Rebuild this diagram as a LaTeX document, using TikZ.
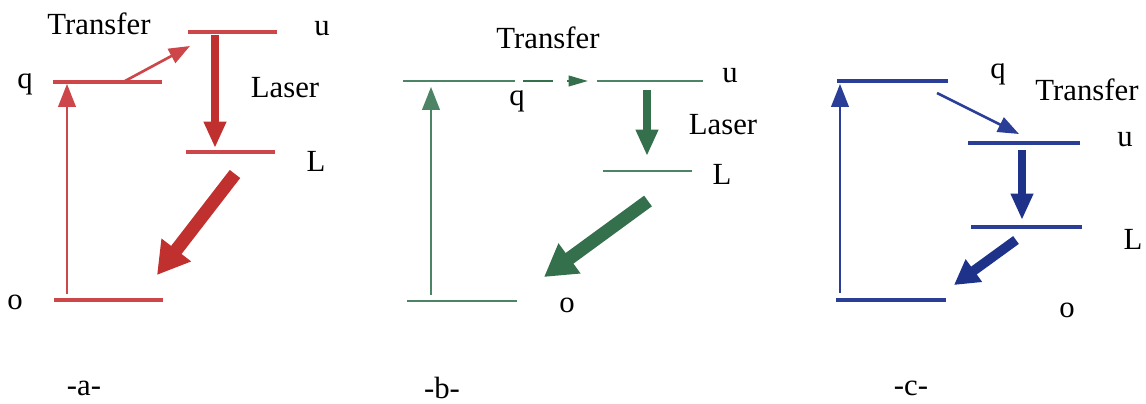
\documentclass[tikz,border=0pt]{standalone}
\usepackage{fontspec}
\setmainfont{Liberation Serif}
\usetikzlibrary{arrows.meta, positioning}
\definecolor{reda}{RGB}{204,70,74}
\definecolor{redarr}{RGB}{192,48,46}
\definecolor{greenb}{RGB}{78,132,102}
\definecolor{greenarr}{RGB}{52,112,76}
\definecolor{bluec}{RGB}{42,62,152}
\definecolor{bluearr}{RGB}{30,50,138}
\tikzstyle{every node}=[font=\fontsize{17.5}{20}\selectfont, inner sep=1pt]
\tikzstyle{level}=[line width=1.8pt]
\tikzstyle{pump}=[line width=1.1pt, -{Triangle[width=10pt,length=13pt]}]
\tikzstyle{transfer}=[line width=1.5pt, -{Triangle[width=9pt,length=12pt]}]
\tikzstyle{laser}=[line width=5pt, -{Triangle[width=12pt,length=15pt]}]
\tikzstyle{decay}=[line width=7.5pt, -{Triangle[width=20pt,length=18pt]}]

\begin{document}
\begin{tikzpicture}[x=0.02cm,y=-0.02cm]
    \useasboundingbox (0,0) rectangle (1146,404);
    % -a-
    \coordinate (qa1) at (53,82);   \coordinate (qa2) at (162,82);
    \coordinate (ua1) at (188,32);  \coordinate (ua2) at (277,32);
    \coordinate (La1) at (186,152); \coordinate (La2) at (275,152);
    \coordinate (oa1) at (54,300);  \coordinate (oa2) at (163,300);
    \coordinate (pa1) at (67,294);  \coordinate (pa2) at (67,84);
    \coordinate (ta1) at (125,81);  \coordinate (ta2) at (190,46);
    \coordinate (la1) at (215,35);  \coordinate (la2) at (215,148);
    \coordinate (da1) at (235,174); \coordinate (da2) at (157,275);
    \draw[level, reda] (qa1) -- (qa2);
    \draw[level, reda] (ua1) -- (ua2);
    \draw[level, reda] (La1) -- (La2);
    \draw[level, reda] (oa1) -- (oa2);
    \draw[pump, reda] (pa1) -- (pa2);
    \draw[transfer, reda] (ta1) -- (ta2);
    \draw[laser, redarr] (la1) -- (la2);
    \draw[decay, redarr] (da1) -- (da2);
    \node (transa) at (99,24) {Transfer};
    \node (laba) at (285,88) {Laser};
    \node (qlaba) at (25,84) {q};
    \node (ulaba) at (322,29) {u};
    \node (Llaba) at (316,161) {L};
    \node (olaba) at (15,302) {o};
    \node (capa) at (84,388) {-a-};
    % -b-
    \coordinate (qb1) at (403,81);  \coordinate (qb2) at (515,81);
    \coordinate (ub1) at (597,81);  \coordinate (ub2) at (703,81);
    \coordinate (Lb1) at (603,171); \coordinate (Lb2) at (692,171);
    \coordinate (ob1) at (407,301); \coordinate (ob2) at (517,301);
    \coordinate (pb1) at (431,295); \coordinate (pb2) at (431,87);
    \coordinate (tb1) at (523,81);  \coordinate (tb2) at (588,81);
    \coordinate (lb1) at (647,90);  \coordinate (lb2) at (647,156);
    \coordinate (db1) at (648,201); \coordinate (db2) at (544,277);
    \draw[level, line width=1.3pt, greenb] (qb1) -- (qb2);
    \draw[level, line width=1.3pt, greenb] (ub1) -- (ub2);
    \draw[level, line width=1.3pt, greenb] (Lb1) -- (Lb2);
    \draw[level, line width=1.3pt, greenb] (ob1) -- (ob2);
    \draw[pump, greenb] (pb1) -- (pb2);
    \draw[greenarr, line width=1.2pt, dash pattern=on 17pt off 8pt,
        -{Triangle[width=6pt,length=11pt]}] (tb1) -- (tb2);
    \draw[laser, line width=4.5pt, greenarr] (lb1) -- (lb2);
    \draw[decay, greenarr] (db1) -- (db2);
    \node (transb) at (548,38) {Transfer};
    \node (labb) at (723,125) {Laser};
    \node (qlabb) at (517,101) {q};
    \node (ulabb) at (730,76) {u};
    \node (Llabb) at (722,174) {L};
    \node (olabb) at (567,305) {o};
    \node (capb) at (442,388) {-b-};
    % -c-
    \coordinate (qc1) at (837,81);   \coordinate (qc2) at (948,81);
    \coordinate (uc1) at (968,143);  \coordinate (uc2) at (1080,143);
    \coordinate (Lc1) at (971,227);  \coordinate (Lc2) at (1082,227);
    \coordinate (oc1) at (836,300);  \coordinate (oc2) at (946,300);
    \coordinate (pc1) at (840,293);  \coordinate (pc2) at (840,84);
    \coordinate (tc1) at (937,93);   \coordinate (tc2) at (1019,134);
    \coordinate (lc1) at (1022,150); \coordinate (lc2) at (1022,220);
    \coordinate (dc1) at (1016,240); \coordinate (dc2) at (954,285);
    \draw[level, bluec] (qc1) -- (qc2);
    \draw[level, bluec] (uc1) -- (uc2);
    \draw[level, bluec] (Lc1) -- (Lc2);
    \draw[level, bluec] (oc1) -- (oc2);
    \draw[pump, bluec] (pc1) -- (pc2);
    \draw[transfer, bluec] (tc1) -- (tc2);
    \draw[laser, line width=4.5pt, bluearr] (lc1) -- (lc2);
    \draw[decay, line width=5.5pt, -{Triangle[width=15pt,length=14pt]}, bluearr] (dc1) -- (dc2);
    \node (qlabc) at (998,74) {q};
    \node (transc) at (1087,90) {Transfer};
    \node (ulabc) at (1125,140) {u};
    \node (Llabc) at (1133,239) {L};
    \node (olabc) at (1067,310) {o};
    \node (capc) at (911,388) {-c-};
\end{tikzpicture}
\end{document}
